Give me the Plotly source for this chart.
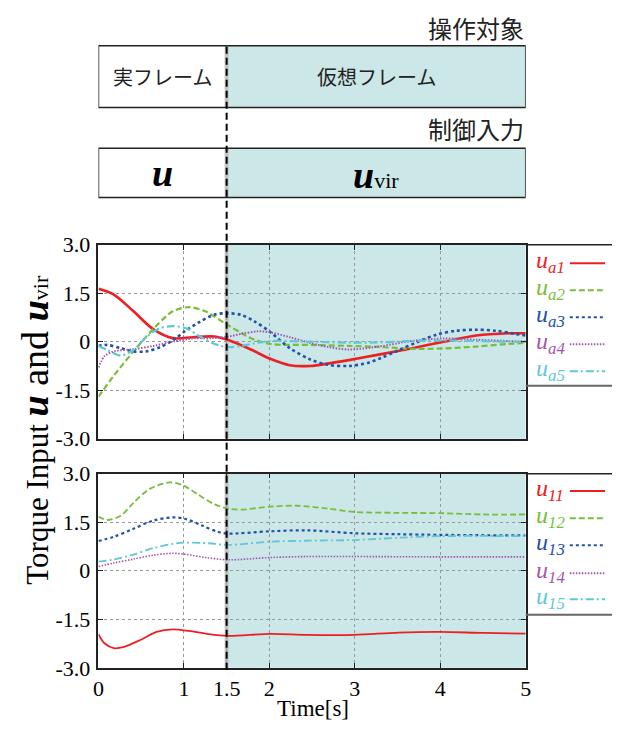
import plotly.graph_objects as go

W, H = 618, 733

# ---------------- data ----------------
# Top panel: u_a1 .. u_a5
a1_t = [0, 0.18, 0.41, 0.64, 0.87, 1.10, 1.36, 1.52, 1.79, 2.01, 2.24, 2.48, 2.70, 2.93, 3.28, 3.66, 4.04, 4.42, 4.80, 5.0]
a1_v = [1.64, 1.46, 0.94, 0.39, 0.11, 0.14, 0.16, 0.05, -0.25, -0.53, -0.73, -0.75, -0.67, -0.57, -0.40, -0.21, 0.0, 0.19, 0.26, 0.26]

a2_t = [0, 0.18, 0.41, 0.64, 0.87, 1.06, 1.25, 1.48, 1.67, 1.79, 2.01, 2.48, 2.93, 3.28, 3.66, 4.04, 4.42, 4.80, 5.0]
a2_v = [-1.70, -1.05, -0.30, 0.39, 0.94, 1.07, 0.94, 0.57, 0.27, 0.10, -0.07, -0.10, -0.13, -0.16, -0.22, -0.21, -0.15, -0.07, -0.03]

a3_t = [0, 0.1, 0.26, 0.41, 0.56, 0.72, 0.87, 1.02, 1.17, 1.36, 1.52, 1.67, 1.82, 2.01, 2.24, 2.48, 2.70, 2.93, 3.16, 3.31, 3.50, 3.74, 3.96, 4.19, 4.42, 4.65, 4.88, 5.0]
a3_v = [-0.13, -0.10, -0.20, -0.30, -0.30, -0.17, 0.04, 0.34, 0.59, 0.84, 0.88, 0.83, 0.64, 0.30, -0.20, -0.55, -0.72, -0.75, -0.65, -0.50, -0.28, 0.0, 0.22, 0.34, 0.37, 0.34, 0.24, 0.19]

a4_t = [0, 0.07, 0.18, 0.41, 0.64, 0.87, 1.10, 1.33, 1.52, 1.67, 1.86, 2.01, 2.24, 2.48, 2.70, 2.93, 3.28, 3.66, 4.04, 4.42, 4.80, 5.0]
a4_v = [-0.80, -0.45, -0.30, -0.23, -0.13, 0.0, 0.10, 0.11, 0.16, 0.24, 0.32, 0.29, 0.14, -0.04, -0.17, -0.24, -0.15, 0.02, 0.10, 0.06, 0.02, 0.0]

a5_t = [0, 0.1, 0.26, 0.41, 0.56, 0.72, 0.87, 1.02, 1.17, 1.36, 1.52, 1.67, 1.79, 2.01, 2.48, 2.93, 3.28, 3.66, 4.04, 4.42, 4.80, 5.0]
a5_v = [-0.13, -0.25, -0.43, -0.25, 0.14, 0.42, 0.48, 0.42, 0.19, -0.07, -0.17, -0.13, -0.07, 0.02, 0.0, -0.03, -0.02, 0.02, 0.04, 0.02, 0.0, 0.0]

# Bottom panel: u_11 .. u_15
b1_t = [0, 0.07, 0.18, 0.29, 0.49, 0.68, 0.87, 1.06, 1.29, 1.52, 2.01, 2.44, 2.99, 3.51, 4.0, 4.5, 5.0]
b1_v = [-1.96, -2.24, -2.39, -2.36, -2.14, -1.89, -1.81, -1.86, -1.96, -2.01, -1.95, -1.98, -1.98, -1.91, -1.89, -1.92, -1.94]

b2_t = [0, 0.10, 0.26, 0.41, 0.60, 0.83, 0.98, 1.17, 1.36, 1.52, 1.67, 2.01, 2.32, 2.66, 2.99, 3.51, 4.0, 4.5, 5.0]
b2_v = [1.68, 1.57, 1.70, 2.10, 2.53, 2.73, 2.65, 2.35, 2.05, 1.92, 1.89, 1.98, 2.01, 1.93, 1.82, 1.79, 1.78, 1.74, 1.74]

b3_t = [0, 0.18, 0.41, 0.64, 0.87, 1.02, 1.21, 1.40, 1.52, 2.01, 2.44, 2.99, 3.51, 4.0, 5.0]
b3_v = [0.92, 1.05, 1.30, 1.55, 1.65, 1.60, 1.40, 1.20, 1.15, 1.22, 1.25, 1.16, 1.13, 1.11, 1.09]

b4_t = [0, 0.18, 0.41, 0.64, 0.87, 1.02, 1.25, 1.52, 2.01, 2.44, 3.0, 4.0, 5.0]
b4_v = [0.13, 0.24, 0.36, 0.48, 0.54, 0.51, 0.41, 0.34, 0.41, 0.44, 0.44, 0.43, 0.43]

b5_t = [0, 0.18, 0.41, 0.64, 0.87, 1.02, 1.29, 1.52, 2.01, 2.46, 2.99, 3.51, 4.0, 5.0]
b5_v = [0.28, 0.35, 0.50, 0.70, 0.83, 0.87, 0.85, 0.80, 0.90, 0.93, 0.95, 1.02, 1.07, 1.07]

top_names = ["a1", "a2", "a3", "a4", "a5"]
bot_names = ["11", "12", "13", "14", "15"]

x_tickvals = [0, 1, 1.5, 2, 3, 4, 5]
x_ticktext = ["0", "1", "1.5", "2", "3", "4", "5"]
y_tickvals = [-3, -1.5, 0, 1.5, 3]
y_ticktext = ["-3.0", "-1.5", "0", "1.5", "3.0"]
switch_time = 1.5

# ---------------- styling ----------------
RED = "rgb(236,32,36)"
GREEN = "rgb(120,190,60)"
BLUE = "rgb(34,82,168)"
MAGENTA = "rgb(165,85,175)"
CYAN = "rgb(95,200,215)"
SHADE = "rgb(203,231,231)"
colors = [RED, GREEN, BLUE, MAGENTA, CYAN]
dashes = ["solid", "6px,3px", "3px,3px", "1.5px,1.5px", "8px,3px,2px,3px"]
top_widths = [2.6, 2.2, 2.6, 2.0, 2.2]
bot_widths = [1.8, 1.8, 2.2, 1.6, 1.8]

SERIF = "Liberation Serif"
CJK = "Noto Sans CJK JP"

def px(x):
    return x / W

def py(y):
    return 1 - y / H

fig = go.Figure()

top_series = [(a1_t, a1_v), (a2_t, a2_v), (a3_t, a3_v), (a4_t, a4_v), (a5_t, a5_v)]
bot_series = [(b1_t, b1_v), (b2_t, b2_v), (b3_t, b3_v), (b4_t, b4_v), (b5_t, b5_v)]

for i, (t, v) in enumerate(top_series):
    fig.add_trace(go.Scatter(x=t, y=v, mode="lines", xaxis="x", yaxis="y",
                             line=dict(color=colors[i], dash=dashes[i], width=top_widths[i],
                                       shape="spline", smoothing=0.9),
                             showlegend=False, hoverinfo="skip"))
for i, (t, v) in enumerate(bot_series):
    fig.add_trace(go.Scatter(x=t, y=v, mode="lines", xaxis="x2", yaxis="y2",
                             line=dict(color=colors[i], dash=dashes[i], width=bot_widths[i],
                                       shape="spline", smoothing=0.9),
                             showlegend=False, hoverinfo="skip"))

x_left, x_right = 94.3, 530
top_y0, top_y1 = 241, 441.7
bot_y0, bot_y1 = 478, 679

axis_common = dict(
    showline=True, linecolor="#222", linewidth=1.5, mirror="ticks",
    ticks="inside", ticklen=5, tickcolor="#222",
    showgrid=True, gridcolor="#999", griddash="dot", gridwidth=1,
    zeroline=False, tickfont=dict(family=SERIF, size=22, color="black"),
)

fig.update_layout(
    width=W, height=H, margin=dict(l=0, r=0, t=0, b=0),
    paper_bgcolor="white", plot_bgcolor="white",
    xaxis=dict(domain=[px(x_left), px(x_right)], range=[0, 5], anchor="y",
               tickvals=x_tickvals, ticktext=x_ticktext, showticklabels=False, **axis_common),
    yaxis=dict(domain=[py(top_y1), py(top_y0)], range=[-3, 3], anchor="x",
               tickvals=y_tickvals, ticktext=y_ticktext, ticklabelstandoff=2, **axis_common),
    xaxis2=dict(domain=[px(x_left), px(x_right)], range=[0, 5], anchor="y2",
                tickvals=x_tickvals, ticktext=x_ticktext, showticklabels=True, **axis_common),
    yaxis2=dict(domain=[py(bot_y1), py(bot_y0)], range=[-3, 3], anchor="x2",
                tickvals=y_tickvals, ticktext=y_ticktext, ticklabelstandoff=2, **axis_common),
    showlegend=False,
)

shapes = []
# shaded virtual-frame regions in both plots
for xr, yr in [("x", "y"), ("x2", "y2")]:
    shapes.append(dict(type="rect", xref=xr, yref=yr + " domain", x0=switch_time, x1=5, y0=0, y1=1,
                       fillcolor=SHADE, line=dict(width=0), layer="below"))
    shapes.append(dict(type="line", xref=xr, yref=yr + " domain", x0=switch_time, x1=switch_time, y0=0, y1=1,
                       line=dict(color="rgb(195,195,195)", width=4), layer="below"))

# top boxes
box1 = (35, 99)
box2 = (141, 192)
for (b0, b1) in [box1, box2]:
    shapes.append(dict(type="rect", xref="x", yref="paper", x0=switch_time, x1=5, y0=py(b1), y1=py(b0),
                       fillcolor=SHADE, line=dict(width=0), layer="below"))
    shapes.append(dict(type="line", xref="x", yref="paper", x0=switch_time, x1=switch_time, y0=py(b1), y1=py(b0),
                       line=dict(color="rgb(195,195,195)", width=4), layer="below"))
    shapes.append(dict(type="rect", xref="x", yref="paper", x0=0, x1=5, y0=py(b1), y1=py(b0),
                       fillcolor="rgba(0,0,0,0)", line=dict(color="#222", width=1.5)))

# dashed switching line through everything
shapes.append(dict(type="line", xref="x", yref="paper", x0=switch_time, x1=switch_time,
                   y0=py(681), y1=py(box1[0]), line=dict(color="black", width=2, dash="7px,4px")))

# legend boxes
leg_boxes = [(top_y0, 387), (bot_y0, 624)]
for (l0, l1) in leg_boxes:
    shapes.append(dict(type="line", xref="paper", yref="paper", x0=px(x_right), x1=1, y0=py(l0), y1=py(l0),
                       line=dict(color="#222", width=1.5)))
    shapes.append(dict(type="line", xref="paper", yref="paper", x0=px(x_right), x1=1, y0=py(l1), y1=py(l1),
                       line=dict(color="#666", width=2)))

annotations = []
top_leg_y = [259, 287, 315, 343, 371]
bot_leg_y = [495, 523, 551, 580, 607]
for names, ys in [(top_names, top_leg_y), (bot_names, bot_leg_y)]:
    for i, (nm, yy) in enumerate(zip(names, ys)):
        annotations.append(dict(
            xref="paper", yref="paper", x=px(538), y=py(yy), xanchor="left", yanchor="middle",
            text="<i>u</i><sub><i>%s</i></sub>" % nm, showarrow=False,
            font=dict(family=SERIF, size=24, color=colors[i])))
        shapes.append(dict(type="line", xref="paper", yref="paper", x0=px(575), x1=px(611),
                           y0=py(yy + 1), y1=py(yy + 1),
                           line=dict(color=colors[i], dash=dashes[i], width=2)))

# box texts
annotations += [
    dict(xref="x", yref="paper", x=5, y=py(16), xanchor="right", yanchor="middle",
         text="操作対象", showarrow=False, font=dict(family=CJK, size=24, color="#222")),
    dict(xref="x", yref="paper", x=5, y=py(121), xanchor="right", yanchor="middle",
         text="制御入力", showarrow=False, font=dict(family=CJK, size=24, color="#222")),
    dict(xref="x", yref="paper", x=switch_time / 2, y=py((box1[0] + box1[1]) / 2), xanchor="center", yanchor="middle",
         text="実フレーム", showarrow=False, font=dict(family=CJK, size=20, color="#222")),
    dict(xref="x", yref="paper", x=(switch_time + 5) / 2, y=py((box1[0] + box1[1]) / 2), xanchor="center", yanchor="middle",
         text="仮想フレーム", showarrow=False, font=dict(family=CJK, size=20, color="#222")),
    dict(xref="x", yref="paper", x=switch_time / 2, y=py((box2[0] + box2[1]) / 2), xanchor="center", yanchor="middle",
         text="<b><i>u</i></b>", showarrow=False, font=dict(family=SERIF, size=38, color="black")),
    dict(xref="x", yref="paper", x=(switch_time + 5) / 2, y=py((box2[0] + box2[1]) / 2 + 2), xanchor="center", yanchor="middle",
         text="<b><i>u</i></b><span style='font-size:22px'>vir</span>", showarrow=False,
         font=dict(family=SERIF, size=38, color="black")),
    # axis titles
    dict(xref="paper", yref="paper", x=px(30), y=py(432), xanchor="center", yanchor="middle", textangle=-90,
         text="Torque Input <span style='font-size:38px'><b><i>u</i></b> and <b><i>u</i></b></span>"
              "<span style='font-size:22px'>vir</span>",
         showarrow=False, font=dict(family=SERIF, size=31, color="black")),
    dict(xref="paper", yref="paper", x=px(313), y=py(721), xanchor="center", yanchor="middle",
         text="Time[s]", showarrow=False, font=dict(family=SERIF, size=23, color="black")),
]

fig.update_layout(shapes=shapes, annotations=annotations)
fig.write_html("out.html", config={"displayModeBar": False},
               post_script="document.body.style.margin='0px';")
